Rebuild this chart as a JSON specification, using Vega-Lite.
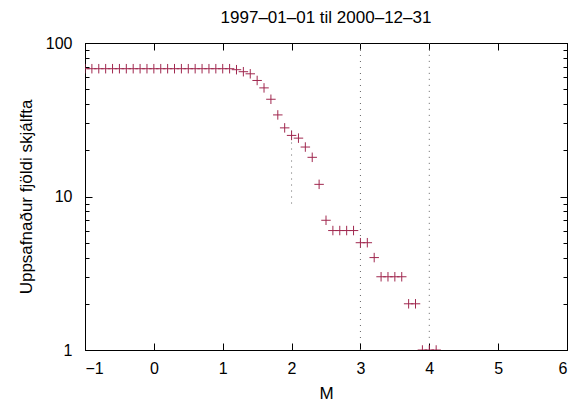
{
  "$schema": "https://vega.github.io/schema/vega-lite/v6.json",
  "width": 482,
  "height": 307,
  "autosize": {"type": "none"},
  "padding": {"left": 85, "top": 43, "right": 10, "bottom": 59},
  "background": "white",
  "config": {
    "view": {"stroke": "black", "strokeWidth": 1},
    "font": "Liberation Sans",
    "axis": {
      "domainColor": "black",
      "tickColor": "black",
      "labelColor": "black",
      "titleColor": "black",
      "labelFont": "Liberation Sans",
      "titleFont": "Liberation Sans",
      "labelFontSize": 16,
      "titleFontSize": 17,
      "titleFontWeight": "normal",
      "grid": false
    }
  },
  "title": {
    "text": "1997–01–01 til 2000–12–31",
    "font": "Liberation Sans",
    "fontSize": 17,
    "fontWeight": "normal",
    "color": "black",
    "anchor": "middle",
    "frame": "group",
    "offset": 8
  },
  "data": {
    "values": [
      {"M": -1.0, "N": 68}, {"M": -0.9, "N": 68}, {"M": -0.8, "N": 68}, {"M": -0.7, "N": 68},
      {"M": -0.6, "N": 68}, {"M": -0.5, "N": 68}, {"M": -0.4, "N": 68}, {"M": -0.3, "N": 68},
      {"M": -0.2, "N": 68}, {"M": -0.1, "N": 68}, {"M": 0.0, "N": 68}, {"M": 0.1, "N": 68},
      {"M": 0.2, "N": 68}, {"M": 0.3, "N": 68}, {"M": 0.4, "N": 68}, {"M": 0.5, "N": 68},
      {"M": 0.6, "N": 68}, {"M": 0.7, "N": 68}, {"M": 0.8, "N": 68}, {"M": 0.9, "N": 68},
      {"M": 1.0, "N": 68}, {"M": 1.1, "N": 68}, {"M": 1.2, "N": 67}, {"M": 1.3, "N": 65},
      {"M": 1.4, "N": 63}, {"M": 1.5, "N": 57}, {"M": 1.6, "N": 51}, {"M": 1.7, "N": 43},
      {"M": 1.8, "N": 34}, {"M": 1.9, "N": 28}, {"M": 2.0, "N": 25}, {"M": 2.1, "N": 24},
      {"M": 2.2, "N": 21}, {"M": 2.3, "N": 18}, {"M": 2.4, "N": 12}, {"M": 2.5, "N": 7},
      {"M": 2.6, "N": 6}, {"M": 2.7, "N": 6}, {"M": 2.8, "N": 6}, {"M": 2.9, "N": 6},
      {"M": 3.0, "N": 5}, {"M": 3.1, "N": 5}, {"M": 3.2, "N": 4}, {"M": 3.3, "N": 3},
      {"M": 3.4, "N": 3}, {"M": 3.5, "N": 3}, {"M": 3.6, "N": 3}, {"M": 3.7, "N": 2},
      {"M": 3.8, "N": 2}, {"M": 3.9, "N": 1}, {"M": 4.0, "N": 1}, {"M": 4.1, "N": 1}
    ]
  },
  "layer": [
    {
      "data": {"values": [{"M": 2, "lo": 9, "hi": 27}, {"M": 3, "lo": 1, "hi": 100}, {"M": 4, "lo": 1.2, "hi": 100}]},
      "mark": {"type": "rule", "color": "#666666", "strokeWidth": 1, "strokeDash": [1, 5]},
      "encoding": {
        "x": {"field": "M", "type": "quantitative", "axis": null, "scale": {"domain": [-1, 6], "nice": false}},
        "y": {"field": "lo", "type": "quantitative", "axis": null, "scale": {"type": "log", "domain": [1, 100], "nice": false}},
        "y2": {"field": "hi"}
      }
    },
    {
      "mark": {"type": "point", "shape": "M-1,0L1,0M0,-1L0,1", "filled": false, "size": 90, "strokeWidth": 1, "color": "#a0284f", "opacity": 1, "clip": true},
      "encoding": {
        "x": {
          "field": "M", "type": "quantitative",
          "scale": {"domain": [-1, 6], "nice": false, "zero": false},
          "axis": {"orient": "bottom", "values": [-1, 0, 1, 2, 3, 4, 5, 6], "tickSize": -7, "labelPadding": 17, "title": "M", "titlePadding": 9}
        },
        "y": {
          "field": "N", "type": "quantitative",
          "scale": {"type": "log", "domain": [1, 100], "nice": false},
          "axis": {
            "orient": "left",
            "values": [1, 2, 3, 4, 5, 6, 7, 8, 9, 10, 20, 30, 40, 50, 60, 70, 80, 90, 100],
            "labelExpr": "indexof([1, 10, 100], datum.value) >= 0 ? datum.label : ''",
            "tickSize": {"condition": {"test": "indexof([1, 10, 100], datum.value) >= 0", "value": -7}, "value": -4},
            "labelPadding": 20,
            "title": "Uppsafnaður fjöldi skjálfta",
            "titlePadding": 10
          }
        }
      }
    },
    {
      "mark": {"type": "point", "opacity": 0},
      "encoding": {
        "x": {
          "field": "M", "type": "quantitative",
          "axis": {"orient": "top", "values": [-1, 0, 1, 2, 3, 4, 5, 6], "tickSize": -7, "labels": false, "title": null}
        },
        "y": {
          "field": "N", "type": "quantitative",
          "axis": {
            "orient": "right",
            "values": [1, 2, 3, 4, 5, 6, 7, 8, 9, 10, 20, 30, 40, 50, 60, 70, 80, 90, 100],
            "tickSize": {"condition": {"test": "indexof([1, 10, 100], datum.value) >= 0", "value": -7}, "value": -4},
            "labels": false,
            "title": null
          }
        }
      }
    }
  ],
  "resolve": {"axis": {"x": "independent", "y": "independent"}}
}
